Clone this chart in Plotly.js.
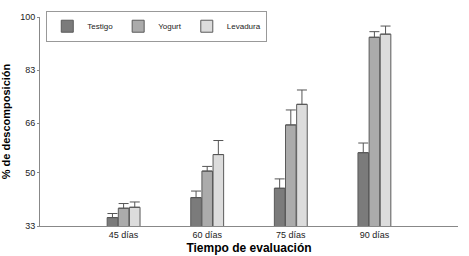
<!DOCTYPE html>
<html><head><meta charset="utf-8">
<script src="https://cdn.plot.ly/plotly-3.0.1.min.js"></script>
<style>body{margin:0;padding:0;background:#fff}#c{width:469px;height:256px}</style>
</head><body><div id="c"></div>
<script>
const categories = ["45 días", "60 días", "75 días", "90 días"];
const testigo = [35.7, 42.1, 45.1, 56.5];
const testigoErr = [1.3, 2.1, 3.0, 3.1];
const yogurt = [38.7, 50.6, 65.4, 93.5];
const yogurtErr = [1.5, 1.5, 4.8, 1.8];
const levadura = [39.0, 55.9, 72.0, 94.5];
const levaduraErr = [1.7, 4.5, 4.6, 2.6];
const yTicks = [33, 50, 66, 83, 100];

function mk(name, y, err, color) {
  return {
    type: 'bar', name: name, x: categories, y: y,
    marker: {color: color, line: {color: '#5a5a5a', width: 1}},
    error_y: {type: 'data', array: err, arrayminus: err.map(() => 0), symmetric: false,
              color: '#555', thickness: 1, width: 5}
  };
}
const data = [
  mk('Testigo', testigo, testigoErr, '#7b7b7b'),
  mk('Yogurt', yogurt, yogurtErr, '#ababab'),
  mk('Levadura', levadura, levaduraErr, '#dcdcdc')
];
const layout = {
  width: 469, height: 256,
  margin: {l: 40, r: 11, t: 17, b: 30},
  paper_bgcolor: '#fff', plot_bgcolor: '#fff',
  font: {family: 'Liberation Sans, Arial, sans-serif', size: 9, color: '#222'},
  barmode: 'group', bargap: 0.6, bargroupgap: 0.05,
  showlegend: true,
  legend: {orientation: 'h', x: 0.015, y: 1.03, xanchor: 'left', yanchor: 'top',
           bordercolor: '#999', borderwidth: 1, bgcolor: '#fff',
           font: {size: 8}, itemwidth: 30, tracegroupgap: 0},
  xaxis: {
    type: 'category', range: [-1, 4], showgrid: false, zeroline: false,
    showline: true, linecolor: '#888', linewidth: 1, ticks: '',
    tickfont: {size: 9},
    title: {text: '<b>Tiempo de evaluación</b>', font: {size: 12, color: '#000'}, standoff: 4}
  },
  yaxis: {
    range: [33, 100], tickvals: yTicks, ticktext: yTicks.map(String),
    showgrid: false, zeroline: false, showline: true, linecolor: '#888', linewidth: 1,
    ticks: 'outside', ticklen: 2, tickcolor: '#888', tickfont: {size: 9},
    title: {text: '<b>% de descomposición</b>', font: {size: 11, color: '#000'}, standoff: 10}
  }
};
Plotly.newPlot('c', data, layout, {staticPlot: true, displayModeBar: false});
</script></body></html>
